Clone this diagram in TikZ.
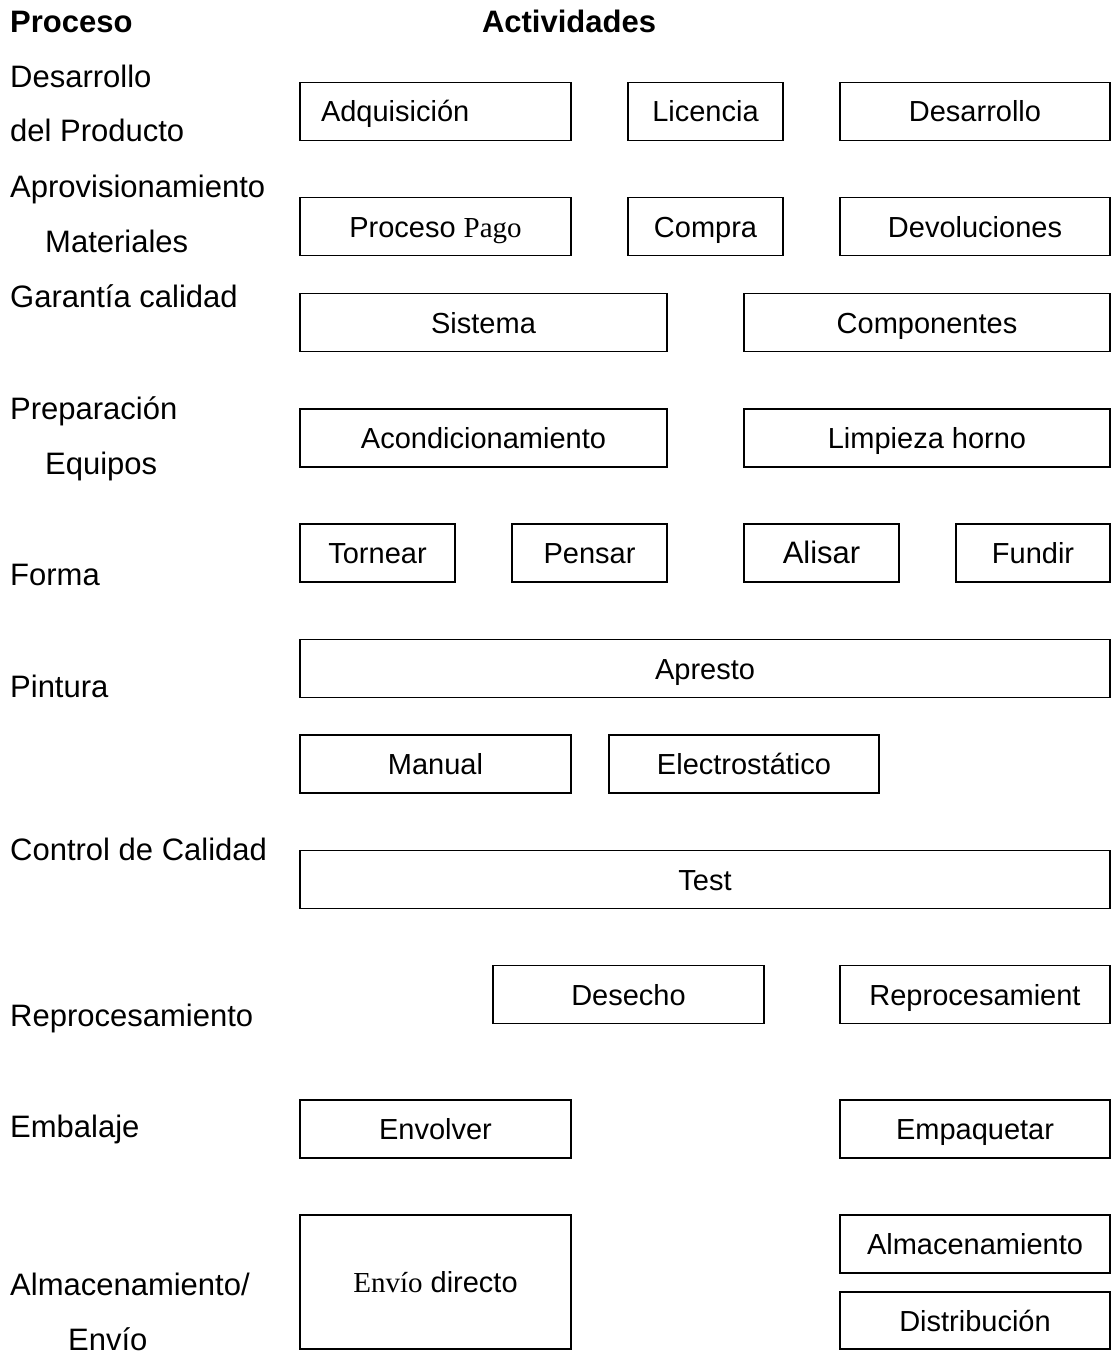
\documentclass[tikz,border=0pt]{standalone}
\usepackage{fontspec}
\setmainfont{Liberation Sans}
\newfontfamily\serifa{Liberation Serif}
\newcommand{\tamano}{\fontsize{29}{34}\selectfont}
\newcommand{\tamanoizq}{\fontsize{31}{36}\selectfont}

\tikzset{
  caja/.style={draw, line width=1.5pt, inner sep=0pt, minimum height=58pt,
    text height=21pt, text depth=0pt},
  etiqueta/.style={anchor=west, inner sep=0pt, text height=22pt, text depth=0pt, font=\tamanoizq},
}

\begin{document}
\begin{tikzpicture}[x=1pt, y=-1pt, every node/.style={font=\tamano}]
  \useasboundingbox (0,0) rectangle (1112,1359);

  % encabezados
  \node[etiqueta, font=\tamanoizq\bfseries] (proceso) at (10,22) {Proceso};
  \node[inner sep=0pt, text height=22pt, text depth=0pt, font=\tamanoizq\bfseries] (actividades) at (569,22) {Actividades};

  % procesos
  \node[etiqueta] (p1a) at (10,77) {Desarrollo};
  \node[etiqueta] (p1b) at (10,131) {del Producto};
  \node[etiqueta] (p2a) at (10,186) {Aprovisionamiento};
  \node[etiqueta] (p2b) at (45,241) {Materiales};
  \node[etiqueta] (p3) at (10,296) {Garantía calidad};
  \node[etiqueta] (p4a) at (10,408) {Preparación};
  \node[etiqueta] (p4b) at (45,463) {Equipos};
  \node[etiqueta] (p5) at (10,574) {Forma};
  \node[etiqueta] (p6) at (10,686) {Pintura};
  \node[etiqueta] (p7) at (10,849) {Control de Calidad};
  \node[etiqueta] (p8) at (10,1015) {Reprocesamiento};
  \node[etiqueta] (p9) at (10,1126) {Embalaje};
  \node[etiqueta] (p10a) at (10,1284) {Almacenamiento/};
  \node[etiqueta] (p10b) at (68,1339) {Envío};

  % actividades
  \node[caja, minimum width=271pt, text width=229pt, align=left] (adquisicion) at (435.5,111.5) {Adquisición};
  \node[caja, minimum width=155pt] (licencia) at (705.5,111.5) {Licencia};
  \node[caja, minimum width=270pt] (desarrollo) at (975,111.5) {Desarrollo};

  \node[caja, minimum width=271pt] (pago) at (435.5,226.5) {Proceso {\serifa Pago}};
  \node[caja, minimum width=155pt] (compra) at (705.5,226.5) {Compra};
  \node[caja, minimum width=270pt] (devoluciones) at (975,226.5) {Devoluciones};

  \node[caja, minimum width=367pt] (sistema) at (483.5,322.5) {Sistema};
  \node[caja, minimum width=366pt] (componentes) at (927,322.5) {Componentes};

  \node[caja, minimum width=367pt] (acondicionamiento) at (483.5,438) {Acondicionamiento};
  \node[caja, minimum width=366pt] (limpieza) at (927,438) {Limpieza horno};

  \node[caja, minimum width=155pt] (tornear) at (377.5,553) {Tornear};
  \node[caja, minimum width=155pt] (pensar) at (589.5,553) {Pensar};
  \node[caja, minimum width=155pt, font=\fontsize{31}{36}\selectfont] (alisar) at (821.5,553) {Alisar};
  \node[caja, minimum width=154pt] (fundir) at (1033,553) {Fundir};

  \node[caja, minimum width=810pt] (apresto) at (705,668.5) {Apresto};

  \node[caja, minimum width=271pt] (manual) at (435.5,764) {Manual};
  \node[caja, minimum width=270pt] (electrostatico) at (744,764) {Electrostático};

  \node[caja, minimum width=810pt] (test) at (705,879.5) {Test};

  \node[caja, minimum width=271pt] (desecho) at (628.5,994.5) {Desecho};
  \node[caja, minimum width=270pt] (reprocesamiento) at (975,994.5) {Reprocesamient};

  \node[caja, minimum width=271pt] (envolver) at (435.5,1129) {Envolver};
  \node[caja, minimum width=270pt] (empaquetar) at (975,1129) {Empaquetar};

  \node[caja, minimum width=271pt, minimum height=134pt] (envio) at (435.5,1282) {{\serifa Envío} directo};
  \node[caja, minimum width=270pt] (almacenamiento) at (975,1244) {Almacenamiento};
  \node[caja, minimum width=270pt, minimum height=57pt] (distribucion) at (975,1320.5) {Distribución};
\end{tikzpicture}
\end{document}
